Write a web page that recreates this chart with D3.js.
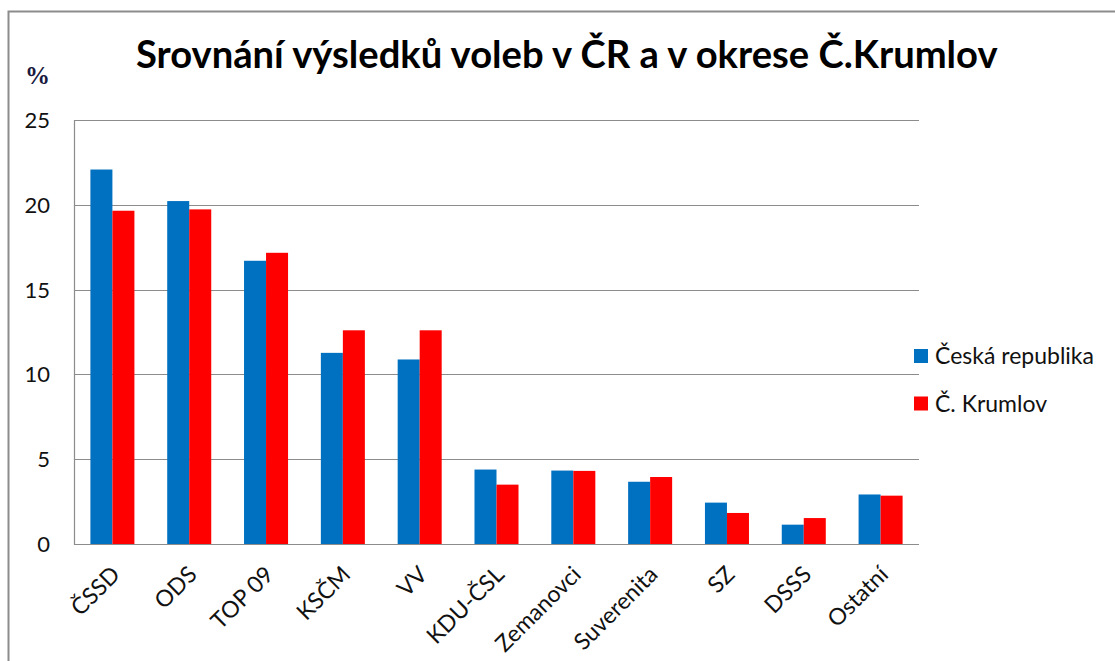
<!DOCTYPE html>
<html>
<head>
<meta charset="utf-8">
<script src="https://d3js.org/d3.v7.min.js"></script>
<style>
  html, body { margin: 0; padding: 0; background: #fff; }
  svg { display: block; }
</style>
</head>
<body>
<svg id="chart" width="1115" height="661"></svg>
<script>
const categories = ["ČSSD", "ODS", "TOP 09", "KSČM", "VV", "KDU-ČSL", "Zemanovci", "Suverenita", "SZ", "DSSS", "Ostatní"];
const seriesNames = ["Česká republika", "Č. Krumlov"];
const valuesCR = [22.08, 20.22, 16.70, 11.27, 10.88, 4.39, 4.33, 3.67, 2.44, 1.14, 2.92];
const valuesKrumlov = [19.65, 19.73, 17.17, 12.60, 12.60, 3.50, 4.31, 3.95, 1.83, 1.53, 2.85];
const yTicks = [0, 5, 10, 15, 20, 25];
const titleText = "Srovnání výsledků voleb v ČR a v okrese Č.Krumlov";
const unitText = "%";
const colors = ["#0070C0", "#FF0000"];

const svg = d3.select("#chart");
const font = "Lato, 'Open Sans', sans-serif";

// outer frame
svg.append("path")
  .attr("d", "M8.5,661 L8.5,11.5 L1115,11.5")
  .attr("fill", "none").attr("stroke", "#8c8c8c").attr("stroke-width", 2);

const plot = { left: 74, right: 919, top: 120, bottom: 544 };

const x0 = d3.scaleBand().domain(categories).range([plot.left, plot.right]).paddingInner(0).paddingOuter(0);
const groupW = x0.bandwidth() * 0.573;
const x1 = d3.scaleBand().domain(seriesNames).range([0, groupW]);
const y = d3.scaleLinear().domain([0, 25]).range([plot.bottom, plot.top]);

// gridlines
svg.append("g").selectAll("line").data(yTicks).join("line")
  .attr("x1", plot.left).attr("x2", plot.right)
  .attr("y1", d => Math.round(y(d)) + 0.5).attr("y2", d => Math.round(y(d)) + 0.5)
  .attr("stroke", "#8c8c8c").attr("stroke-width", 1.2);

// y axis line
svg.append("line")
  .attr("x1", plot.left + 0.5).attr("x2", plot.left + 0.5)
  .attr("y1", plot.top).attr("y2", plot.bottom + 1)
  .attr("stroke", "#8c8c8c").attr("stroke-width", 1.2);

// y tick labels
svg.append("g").selectAll("text").data(yTicks).join("text")
  .attr("x", 50).attr("y", d => y(d)).attr("dy", "0.36em")
  .attr("text-anchor", "end")
  .attr("font-family", font).attr("font-size", 22).attr("fill", "#111")
  .text(d => d);

// bars
const series = [valuesCR, valuesKrumlov];
const bars = svg.append("g");
series.forEach((vals, si) => {
  bars.selectAll(null).data(vals).join("rect")
    .attr("x", (d, i) => x0(categories[i]) + (x0.bandwidth() - groupW) / 2 + x1(seriesNames[si]))
    .attr("width", x1.bandwidth())
    .attr("y", d => y(d))
    .attr("height", d => plot.bottom - y(d))
    .attr("fill", colors[si]);
});

// x labels
svg.append("g").selectAll("text").data(categories).join("text")
  .attr("transform", d => `translate(${x0(d) + x0.bandwidth() / 2 + 9},${576}) rotate(-45)`)
  .attr("text-anchor", "end")
  .attr("font-family", font).attr("font-size", 23).attr("fill", "#111")
  .text(d => d);

// title
const title = svg.append("text")
  .attr("x", 136).attr("y", 68)
  .attr("font-family", font).attr("font-weight", "bold").attr("font-size", 34)
  .attr("fill", "#000")
  .text(titleText);
const tw = title.node().getComputedTextLength();
title.attr("font-size", 34 * 862 / tw);

// unit label
svg.append("text")
  .attr("x", 25).attr("y", 84)
  .attr("font-family", "'Liberation Serif', 'Times New Roman', serif")
  .attr("font-weight", "bold").attr("font-size", 25).attr("fill", "#1a1a40")
  .text(unitText);

// legend
const legend = svg.append("g");
seriesNames.forEach((name, i) => {
  const ly = 349 + i * 47.5;
  legend.append("rect").attr("x", 914).attr("y", ly).attr("width", 14).attr("height", 14).attr("fill", colors[i]);
  legend.append("text").attr("x", 935).attr("y", ly + 7).attr("dy", "0.36em")
    .attr("font-family", font).attr("font-size", 23).attr("fill", "#111")
    .text(name);
});
</script>
</body>
</html>
